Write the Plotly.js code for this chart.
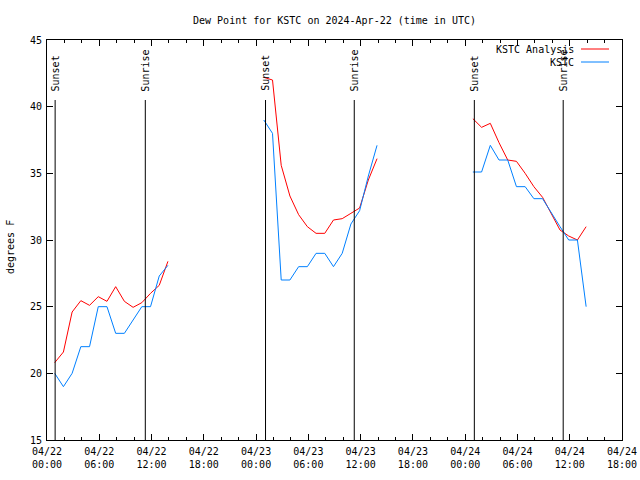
<!DOCTYPE html>
<html>
<head>
<meta charset="utf-8">
<script src="https://cdn.plot.ly/plotly-3.0.1.min.js"></script>
<style>
  html, body { margin: 0; padding: 0; background: #ffffff; }
  #chart { width: 640px; height: 480px; }
</style>
</head>
<body>
<div id="chart"></div>
<script>
// ---- data ----
const days = ['2024-04-22', '2024-04-23', '2024-04-24'];
const obsHours = ['00:53', '01:53', '02:53', '03:53', '04:53', '05:53', '06:53',
                  '07:53', '08:53', '09:53', '10:53', '11:53', '12:53', '13:53'];

// KSTC Analysis (red), degrees F
const analysisDay1 = [20.8, 21.6, 24.6, 25.45, 25.1, 25.75, 25.4, 26.5, 25.4, 24.95, 25.3, 26.0, 26.6, 28.4];
const analysisDay2 = [42.2, 42.0, 35.6, 33.3, 31.9, 31.0, 30.5, 30.5, 31.5, 31.6, 32.0, 32.4, 34.5, 36.1];
const analysisDay3 = [39.1, 38.45, 38.75, 37.3, 36.0, 35.9, 35.0, 34.0, 33.2, 32.0, 30.75, 30.3, 30.0, 31.0];

// KSTC observations (blue), degrees F
const kstcDay1 = [20, 19, 20, 22, 22, 25, 25, 23, 23, 24, 25, 25, 27.3, 28.1];
const kstcDay2 = [39, 38, 27, 27, 28, 28, 29, 29, 28, 29, 31.2, 32.2, 34.8, 37.1];
const kstcDay3 = [35.1, 35.1, 37.1, 36.0, 36.0, 34.0, 34.0, 33.1, 33.1, 32.1, 31.0, 30.0, 30.0, 25.0];

// sunrise / sunset markers (UTC)
const sunTimes  = ['2024-04-22 00:56', '2024-04-22 11:17', '2024-04-23 01:05',
                   '2024-04-23 11:16', '2024-04-24 01:03', '2024-04-24 11:15'];
const sunLabels = ['Sunset', 'Sunrise', 'Sunset', 'Sunrise', 'Sunset', 'Sunrise'];

// axis ticks
const xTickVals = ['2024-04-22 00:00', '2024-04-22 06:00', '2024-04-22 12:00', '2024-04-22 18:00',
                   '2024-04-23 00:00', '2024-04-23 06:00', '2024-04-23 12:00', '2024-04-23 18:00',
                   '2024-04-24 00:00', '2024-04-24 06:00', '2024-04-24 12:00', '2024-04-24 18:00'];
const xTickText = ['04/22<br>00:00', '04/22<br>06:00', '04/22<br>12:00', '04/22<br>18:00',
                   '04/23<br>00:00', '04/23<br>06:00', '04/23<br>12:00', '04/23<br>18:00',
                   '04/24<br>00:00', '04/24<br>06:00', '04/24<br>12:00', '04/24<br>18:00'];
const xRange = ['2024-04-22 00:00', '2024-04-24 18:00'];
const yRange = [15, 45];

const seriesNames = ['KSTC Analysis', 'KSTC'];
const seriesColors = ['#ff0000', '#0080ff'];

// ---- build traces ----
const analysisByDay = [analysisDay1, analysisDay2, analysisDay3];
const kstcByDay = [kstcDay1, kstcDay2, kstcDay3];
const traces = [];
[analysisByDay, kstcByDay].forEach((byDay, s) => {
  byDay.forEach((vals, d) => {
    traces.push({
      type: 'scatter',
      mode: 'lines',
      name: seriesNames[s],
      showlegend: false,
      x: obsHours.map(h => days[d] + ' ' + h),
      y: vals,
      line: { color: seriesColors[s], width: 1 },
      hoverinfo: 'skip'
    });
  });
});

const FONT = 'DejaVu Sans Mono, Liberation Mono, monospace';

const shapes = sunTimes.map(t => ({
  type: 'line', xref: 'x', yref: 'y',
  x0: t, x1: t, y0: 15, y1: 40.5,
  line: { color: '#000000', width: 1 }
}));

const annotations = sunTimes.map((t, i) => ({
  xref: 'x', yref: 'y', x: t, y: 41,
  text: sunLabels[i], textangle: -90, showarrow: false,
  xanchor: 'center', yanchor: 'bottom',
  font: { family: FONT, size: 10, color: '#000000' }
}));

// y axis title
annotations.push({
  xref: 'paper', yref: 'paper', x: 0, y: 0.5, xshift: -37, yshift: -7,
  text: 'degrees F', textangle: -90, showarrow: false,
  xanchor: 'center', yanchor: 'middle',
  font: { family: FONT, size: 10, color: '#000000' }
});

// legend (gnuplot style: text left, sample right)
const legendOffsets = [-9, -22];
seriesNames.forEach((n, i) => {
  annotations.push({
    xref: 'paper', yref: 'paper', x: 1, y: 1, xshift: -46, yshift: legendOffsets[i],
    text: n, showarrow: false, xanchor: 'right', yanchor: 'middle',
    font: { family: FONT, size: 10, color: '#000000' }
  });
  shapes.push({
    type: 'line', xref: 'paper', yref: 'paper',
    xsizemode: 'pixel', ysizemode: 'pixel', xanchor: 1, yanchor: 1,
    x0: -41, x1: -13, y0: legendOffsets[i], y1: legendOffsets[i],
    line: { color: seriesColors[i], width: 1 }
  });
});

const layout = {
  width: 640, height: 480,
  paper_bgcolor: '#ffffff', plot_bgcolor: '#ffffff',
  margin: { l: 47, r: 18, t: 40, b: 40, pad: 0 },
  font: { family: FONT, size: 10, color: '#000000' },
  showlegend: false,
  title: {
    text: 'Dew Point for KSTC on 2024-Apr-22 (time in UTC)',
    x: 0.5, xref: 'paper', y: 1 - 20 / 480, yref: 'container',
    xanchor: 'center', yanchor: 'middle',
    font: { family: FONT, size: 10, color: '#000000' }
  },
  xaxis: {
    type: 'date', range: xRange,
    tickmode: 'array', tickvals: xTickVals, ticktext: xTickText,
    ticks: 'inside', ticklen: 6, tickwidth: 1, tickcolor: '#000000',
    ticklabelstandoff: 2,
    showline: true, linecolor: '#000000', linewidth: 1, mirror: 'ticks',
    showgrid: false, zeroline: false,
    minor: { ticks: 'inside', ticklen: 3, tickcolor: '#000000', tickmode: 'linear',
             tick0: '2024-04-22 00:00', dtick: 7200000, showgrid: false },
    tickfont: { family: FONT, size: 10, color: '#000000' },
    fixedrange: true
  },
  yaxis: {
    range: yRange, dtick: 5, tick0: 15,
    ticks: 'inside', ticklen: 6, tickwidth: 1, tickcolor: '#000000',
    ticklabelstandoff: 2,
    showline: true, linecolor: '#000000', linewidth: 1, mirror: 'ticks',
    showgrid: false, zeroline: false,
    tickfont: { family: FONT, size: 10, color: '#000000' },
    fixedrange: true
  },
  shapes: shapes,
  annotations: annotations
};

Plotly.newPlot('chart', traces, layout, { staticPlot: true, displayModeBar: false });
</script>
</body>
</html>
